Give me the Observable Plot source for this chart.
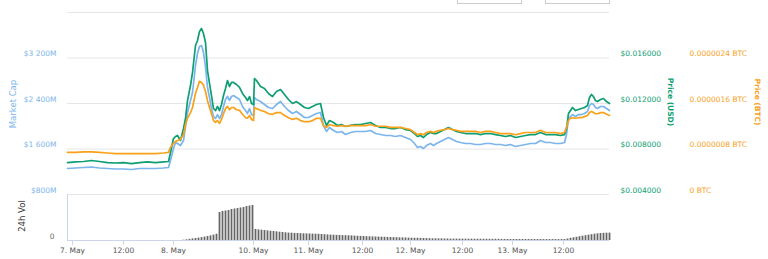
<!DOCTYPE html>
<html><head><meta charset="utf-8">
<script src="https://cdn.jsdelivr.net/npm/d3@7"></script>
<script src="https://cdn.jsdelivr.net/npm/@observablehq/plot@0.6"></script>
<style>
body{margin:0;background:#fff;}
#chart{position:relative;width:768px;height:259px;overflow:hidden;font-family:"DejaVu Sans",sans-serif;background:#fff;}
#chart svg{position:absolute;left:0;top:0;background:transparent;}
.t{position:absolute;white-space:nowrap;transform-origin:center center;line-height:1;}
.box{position:absolute;border:1px solid #cccccc;background:#fff;box-sizing:border-box;}
</style></head><body><div id="chart"></div>
<script>
// ordinal positions of the price samples (Highcharts ordinal x-axis)
const step = [0,8,16,24,32,40,48,56,64,72,80,88,96,101,103,106,108,110,113,116,118,120,123,125,128,130,132,134,136,138,140,142,144,146,148,150,152,154,156,158,160,162,164,166,169,172,175,178,180,182,184,186,187,189,193,197,201,205,209,213,217,221,225,229,233,237,241,245,249,253,256,259,262,266,270,274,278,283,288,293,298,303,308,313,318,323,328,333,338,343,347,350,353,356,359,363,366,369,373,377,381,385,389,393,398,403,408,413,418,423,428,433,438,443,448,453,458,463,468,473,478,483,488,493,497,499,501,503,505,508,511,514,517,520,522,524,526,528,530,533,536,539,542];
// Market cap, $M
const marketCap = [1257,1266,1275,1283,1266,1257,1248,1248,1240,1257,
1257,1257,1266,1275,1398,1609,1714,1697,1661,1749,
1995,2242,2453,2593,3068,3279,3402,3419,3296,3050,
2681,2505,2312,2171,2136,2206,2136,2206,2347,2470,
2523,2453,2523,2540,2505,2470,2347,2277,2224,2312,
2206,2189,2505,2470,2435,2382,2329,2312,2382,2435,
2347,2277,2224,2259,2206,2154,2154,2189,2224,2242,
2013,1908,1978,1925,1890,1908,1855,1890,1908,1908,
1908,1925,1872,1855,1837,1837,1820,1837,1802,1767,
1697,1626,1644,1609,1661,1697,1661,1697,1732,1767,
1802,1767,1732,1714,1697,1697,1679,1679,1697,1697,
1679,1679,1661,1679,1644,1661,1679,1697,1697,1749,
1714,1714,1697,1697,1714,1855,2136,2171,2206,2171,
2206,2206,2224,2259,2365,2400,2382,2329,2312,2347,
2347,2312,2277];
// Price in USD
const priceUSD = [0.00681,0.00686,0.00690,0.00699,0.00690,0.00681,0.00677,0.00681,0.00672,0.00681,
0.00686,0.00681,0.00686,0.00690,0.00769,0.00892,0.00910,0.00919,0.00875,0.00980,
0.01068,0.01226,0.01358,0.01472,0.01710,0.01754,0.01833,0.01859,0.01815,0.01736,
0.01490,0.01376,0.01270,0.01156,0.01138,0.01174,0.01138,0.01191,0.01270,0.01332,
0.01402,0.01349,0.01385,0.01385,0.01367,0.01341,0.01288,0.01253,0.01226,0.01261,
0.01200,0.01191,0.01420,0.01402,0.01349,0.01332,0.01288,0.01261,0.01305,0.01323,
0.01279,0.01235,0.01200,0.01217,0.01191,0.01165,0.01156,0.01174,0.01191,0.01200,
0.01077,0.01007,0.01050,0.01033,0.01007,0.01015,0.00998,0.01007,0.01015,0.01015,
0.01024,0.01033,0.01007,0.00989,0.00989,0.00980,0.00980,0.00989,0.00971,0.00963,
0.00936,0.00910,0.00919,0.00901,0.00927,0.00945,0.00936,0.00936,0.00954,0.00971,
0.00989,0.00971,0.00954,0.00945,0.00936,0.00936,0.00936,0.00927,0.00936,0.00936,
0.00927,0.00919,0.00910,0.00919,0.00901,0.00910,0.00919,0.00927,0.00927,0.00945,
0.00927,0.00927,0.00927,0.00919,0.00927,0.00980,0.01112,0.01138,0.01165,0.01138,
0.01147,0.01156,0.01165,0.01182,0.01253,0.01279,0.01261,0.01226,0.01217,0.01235,
0.01244,0.01217,0.01200];
// Price in BTC, satoshi (1e-8 BTC)
const priceSat = [74,74,75,75,74,73,72,72,72,72,
72,72,73,74,83,90,93,95,97,105,
123,134,144,153,178,188,199,197,192,181,
165,153,142,130,127,130,125,132,142,151,
155,149,153,153,149,148,141,135,134,139,
132,130,153,151,148,146,142,141,144,144,
139,135,132,134,130,128,128,130,134,134,
121,118,123,121,120,121,120,121,121,121,
121,123,120,120,120,118,118,118,116,114,
109,105,107,105,109,111,109,111,113,114,
116,114,113,111,111,111,111,109,111,111,
109,107,107,107,105,107,109,109,109,113,
109,109,109,107,109,118,130,134,135,134,
135,135,137,139,144,146,144,142,142,144,
144,141,139];
// 24h volume (arbitrary $M units), one bar every 3 ordinal steps from step 116
const volStart = 116, volSpacing = 3;
const volume = [1.3,3,5.2,7,8.7,10.4,12.6,14.8,17.4,20,23.5,27.4,
121.8,126.2,128.3,130.5,134.9,137,139.2,141.4,143.6,147.9,150.1,152.3,
47.9,46.1,44.8,43.5,41.8,40.5,39.2,37.8,36.1,34.8,
33.5,32.2,31.8,30.9,30.5,29.6,29.1,28.7,28.3,27.8,
27.4,27,26.1,25.2,24.4,23.5,23.1,22.2,21.8,21.3,
20.9,20.4,20,19.1,18.3,17.8,17.4,16.5,16.1,15.7,
15.2,14.8,14.4,13.9,13.5,13.1,12.6,12.2,11.7,11.3,
10.9,10.4,10,9.6,9.6,9.1,8.7,8.3,7.8,7.4,
7.4,7,7,6.5,6.5,6.1,
6.1,6.0,6.0,5.9,5.8,5.7,5.7,5.6,5.5,5.5,5.4,5.3,5.3,5.2,5.2,5.2,
4.6,4.5,4.5,4.4,4.4,4.4,4.3,4.3,4.4,4.3,4.2,4.3,4.2,4.2,4.1,4.2,4.1,4.1,4.0,4.0,4.1,4.3,
6.5,9.6,11.7,13.9,16.5,18.7,20.9,23.1,25.2,27.4,29.1,30.5,31.3,31.8,32.2];

const xTickSteps = [5,56,106,186,241,295,343,395,445,496];
const xTickLabels = ["7. May","12:00","8. May","10. May","11. May","12:00","12. May","12:00","13. May","12:00"];
const mcGrid = [800,1600,2400,3200,4000];
const mcTicks = [800,1600,2400,3200];
const usdTicks = [0.004,0.008,0.012,0.016];
const btcTicks = [0,0.0000008,0.0000016,0.0000024];

const C_MC = "#7cb5ec", C_USD = "#0d9e72", C_BTC = "#f9a11b";

const priceRows = step.map((s, i) => ({step: s, mc: marketCap[i], usd: priceUSD[i], btc: priceSat[i] * 1e-8}));
const volRows = volume.map((v, i) => ({step: volStart + volSpacing * i, vol: v}));

const W = 768, H = 259;
const common = {width: W, height: H, marginLeft: 67, marginRight: 159,
  x: {domain: [0, 542], axis: null},
  style: {background: "transparent", fontFamily: "DejaVu Sans, sans-serif", fontSize: "7.5px"}};
const pricePane = {...common, marginTop: 12, marginBottom: 65};

const fmtMC = d => "$" + (d >= 1000 ? Math.floor(d / 1000) + " " + String(d % 1000).padStart(3, "0") : d) + "M";
const fmtUSD = d => "$" + d.toFixed(6);
const fmtBTC = d => (d === 0 ? "0" : d.toFixed(7)) + " BTC";

const chart = document.getElementById("chart");

const p1 = Plot.plot({...pricePane,
  y: {domain: [800, 4000], axis: null},
  marks: [
    Plot.gridY(mcGrid, {stroke: "#e6e6e6", strokeOpacity: 1}),
    Plot.axisY(mcTicks, {anchor: "left", tickSize: 0, tickPadding: 11, dy: -4, fill: C_MC, tickFormat: fmtMC, label: null}),
    Plot.line(priceRows, {x: "step", y: "mc", stroke: C_MC, strokeWidth: 1.7})
  ]});
const p2 = Plot.plot({...pricePane,
  y: {domain: [0.004, 0.020], axis: null},
  marks: [
    Plot.axisY(usdTicks, {anchor: "right", tickSize: 0, tickPadding: 11, dy: -4, fill: C_USD, tickFormat: fmtUSD, label: null}),
    Plot.line(priceRows, {x: "step", y: "usd", stroke: C_USD, strokeWidth: 1.7})
  ]});
const p3 = Plot.plot({...pricePane,
  y: {domain: [0, 0.0000032], axis: null},
  marks: [
    Plot.axisY(btcTicks, {anchor: "right", tickSize: 0, tickPadding: 80, dy: -4, fill: C_BTC, tickFormat: fmtBTC, label: null}),
    Plot.line(priceRows, {x: "step", y: "btc", stroke: C_BTC, strokeWidth: 1.7})
  ]});
const p4 = Plot.plot({...common, marginTop: 194, marginBottom: 19,
  y: {domain: [0, 200], axis: null},
  marks: [
    Plot.ruleX(volRows, {x: "step", y1: 0, y2: "vol", stroke: "#666", strokeWidth: 1.8}),
    Plot.ruleY([0], {stroke: "#ccd6eb"}),
    Plot.ruleX([0], {stroke: "#ccd6eb"}),
    Plot.axisY([0], {anchor: "left", tickSize: 0, tickPadding: 13, dy: -4, fill: "#666", label: null}),
    Plot.axisX(xTickSteps, {anchor: "bottom", tickSize: 5, tickPadding: 2, stroke: "#ccd6eb", fill: "#555", label: null,
      tickFormat: d => xTickLabels[xTickSteps.indexOf(d)]})
  ]});
for (const p of [p1, p4, p2, p3]) chart.appendChild(p);

function addText(txt, cx, cy, rot, color, size, weight) {
  const d = document.createElement("div");
  d.className = "t";
  d.textContent = txt;
  d.style.left = cx + "px"; d.style.top = cy + "px";
  d.style.color = color; d.style.fontSize = size + "px";
  d.style.fontWeight = weight || "normal";
  d.style.transform = `translate(-50%,-50%) rotate(${rot}deg)`;
  chart.appendChild(d);
}
addText("Market Cap", 13, 104, -90, C_MC, 8.5);
addText("Price (USD)", 670, 102, 90, C_USD, 7.5, "bold");
addText("Price (BTC)", 757, 102, 90, C_BTC, 7.5, "bold");
addText("24h Vol", 22, 216, -90, "#333", 8.5);

function addBox(x, w) {
  const b = document.createElement("div");
  b.className = "box";
  b.style.left = x + "px"; b.style.top = "-3px";
  b.style.width = w + "px"; b.style.height = "7px";
  chart.appendChild(b);
}
addBox(457, 65);
addBox(545, 65);
</script></body></html>
